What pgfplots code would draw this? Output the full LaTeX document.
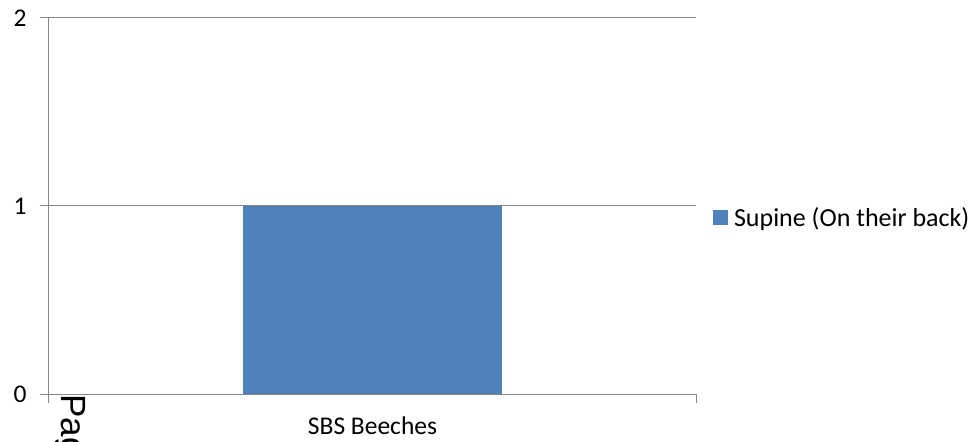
\documentclass[border=0pt]{standalone}
\usepackage{fontspec}
\setmainfont{Carlito}
\newfontfamily\pagefont{Liberation Sans}
\usepackage{pgfplots}
\pgfplotsset{compat=1.18}
\definecolor{barblue}{HTML}{4F81BD}
\definecolor{gridgray}{HTML}{868686}
\begin{document}
\begin{tikzpicture}
\useasboundingbox (-49pt,-48pt) rectangle (929pt,394pt);
\begin{axis}[
  at={(0pt,0pt)}, anchor=south west,
  scale only axis, width=647pt, height=376pt,
  xmin=-0.5, xmax=0.5, ymin=0, ymax=2,
  axis x line=bottom, axis y line=left,
  axis line style={-, draw=gridgray, line width=1pt},
  ytick={0,1,2},
  ymajorgrids, grid style={draw=gridgray, line width=1pt},
  xtick={-0.5,0.5}, xticklabels={},
  extra x ticks={0}, extra x tick labels={SBS Beeches},
  extra x tick style={major tick length=0pt, xticklabel style={yshift=-19pt}},
  tick align=outside, major tick length=9pt,
  tick style={draw=gridgray, line width=1pt},
  tick label style={font=\fontsize{25.5}{30}\selectfont, text=black},
  yticklabel style={xshift=-10pt},
  /pgf/number format/assume math mode=true,
  legend style={draw=none, fill=none, at={(1.026,0.47)}, anchor=west,
    font=\fontsize{26}{30}\selectfont, inner sep=0pt},
  legend image code/.code={\fill[#1] (0pt,-7.5pt) rectangle (15pt,7.5pt); \path (19pt,0pt);},
  clip=false,
]
\addplot[ybar, bar width=258.8pt, fill=barblue, draw=none] coordinates {(0,1)};
\addlegendentry{Supine (On their back)}
\node[rotate=-90, anchor=base west, inner sep=0pt, font=\pagefont\fontsize{35}{40}\selectfont] at (rel axis cs:0.02,0) {Page};
\end{axis}
\end{tikzpicture}
\end{document}
